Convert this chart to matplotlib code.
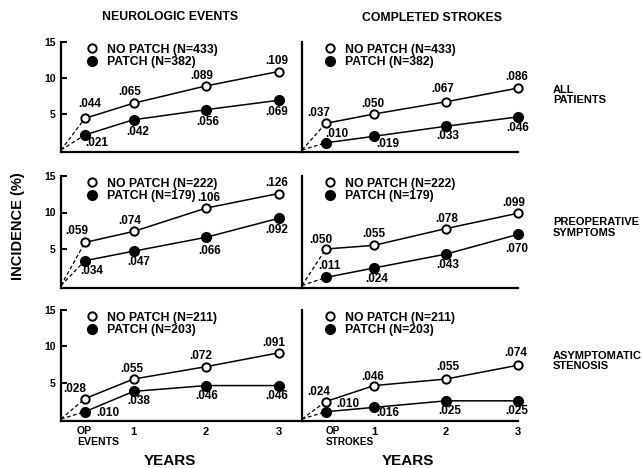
import matplotlib
matplotlib.use("Agg")
import matplotlib.pyplot as plt

plt.rcParams['font.family'] = ['Liberation Sans', 'DejaVu Sans']
plt.rcParams['font.weight'] = 'bold'

# ---------------- data ----------------
years = [0.33, 1, 2, 3]          # OP point, then years 1..3
year_ticks = [1, 2, 3]
year_tick_labels = ["1", "2", "3"]
column_titles = ["NEUROLOGIC EVENTS", "COMPLETED STROKES"]
op_label_top = ["OP", "OP"]
op_label_bottom = ["EVENTS", "STROKES"]
row_labels = ["ALL\nPATIENTS", "PREOPERATIVE\nSYMPTOMS", "ASYMPTOMATIC\nSTENOSIS"]
n_nopatch = [433, 222, 211]
n_patch = [382, 179, 203]

all_events_nopatch = [0.044, 0.065, 0.089, 0.109]
all_events_patch = [0.021, 0.042, 0.056, 0.069]
all_strokes_nopatch = [0.037, 0.050, 0.067, 0.086]
all_strokes_patch = [0.010, 0.019, 0.033, 0.046]
preop_events_nopatch = [0.059, 0.074, 0.106, 0.126]
preop_events_patch = [0.034, 0.047, 0.066, 0.092]
preop_strokes_nopatch = [0.050, 0.055, 0.078, 0.099]
preop_strokes_patch = [0.011, 0.024, 0.043, 0.070]
asym_events_nopatch = [0.028, 0.055, 0.072, 0.091]
asym_events_patch = [0.010, 0.038, 0.046, 0.046]
asym_strokes_nopatch = [0.024, 0.046, 0.055, 0.074]
asym_strokes_patch = [0.010, 0.016, 0.025, 0.025]

panels = [
    [(all_events_nopatch, all_events_patch), (all_strokes_nopatch, all_strokes_patch)],
    [(preop_events_nopatch, preop_events_patch), (preop_strokes_nopatch, preop_strokes_patch)],
    [(asym_events_nopatch, asym_events_patch), (asym_strokes_nopatch, asym_strokes_patch)],
]

# ---------------- label offsets (pixels: dx right, dy down) ----------------
offs_nopatch = [
    [[(5, -14), (-4, -11), (-4, -10), (-2, -11)], [(-7, -10), (-1, -10), (-3, -13), (-1, -11)]],
    [[(-8, -11), (-4, -10), (3, -10), (-2, -11)], [(-5, -9), (0, -11), (1, -10), (-4, -10)]],
    [[(-10, -10), (-2, -10), (-5, -11), (-5, -10)], [(-7, -10), (-1, -9), (2, -12), (-2, -12)]],
]
offs_patch = [
    [[(12, 8), (4, 12), (2, 12), (-2, 12)], [(11, -9), (14, 8), (2, 10), (0, 11)]],
    [[(7, 10), (5, 11), (4, 14), (-2, 12)], [(4, -11), (3, 11), (2, 11), (-1, 15)]],
    [[(23, 1), (5, 10), (1, 10), (-2, 10)], [(22, -8), (14, 6), (4, 10), (-1, 10)]],
]

# ---------------- layout ----------------
W, H = 642, 468
fig = plt.figure(figsize=(W / 100, H / 100), dpi=100)

row_px = [(150, 42), (285.5, 176), (419, 310)]   # pixel y of value 0 and 15
col_px = [(61, 241, 72.5), (302, 216, 72.0)]     # left, width, px per year
op_label_dx = [-8, 0]
op_label_size = [7.6, 7.2]
YMIN = -0.3


def fmt(v):
    return "." + f"{int(round(v * 1000)):03d}"


for r in range(3):
    y0, y15 = row_px[r]
    scale = (y0 - y15) / 15.0
    bottom_px = y0 - YMIN * scale
    for c in range(2):
        left, width, ppy = col_px[c]
        ax = fig.add_axes([left / W, 1 - bottom_px / H, width / W, (bottom_px - y15) / H])
        ax.set_xlim(0, width / ppy)
        ax.set_ylim(YMIN, 15)
        for s in ("top", "right"):
            ax.spines[s].set_visible(False)
        ax.spines["left"].set_linewidth(1.6)
        ax.spines["bottom"].set_linewidth(1.6)
        ax.patch.set_alpha(0)

        npv, pv = panels[r][c]
        np100 = [v * 100 for v in npv]
        p100 = [v * 100 for v in pv]

        ax.plot(years, np100, '-', color='black', lw=1.1, marker='o', ms=6,
                mfc='white', mec='black', mew=1.4, clip_on=False, zorder=4,
                label=f"NO PATCH (N={n_nopatch[r]})")
        ax.plot(years, p100, '-', color='black', lw=1.1, marker='o', ms=7,
                mfc='black', mec='black', clip_on=False, zorder=4,
                label=f"PATCH (N={n_patch[r]})")
        ax.plot([0, years[0]], [0, np100[0]], ls=(0, (3, 2)), lw=0.9,
                color='black', clip_on=False, zorder=3)
        ax.plot([0, years[0]], [0, p100[0]], ls=(0, (3, 2)), lw=0.9,
                color='black', clip_on=False, zorder=3)

        for i in range(4):
            dx, dy = offs_nopatch[r][c][i]
            ax.annotate(fmt(npv[i]), (years[i], np100[i]), xytext=(dx, -dy),
                        textcoords='offset pixels', ha='center', va='center',
                        fontsize=8.5, annotation_clip=False)
            dx, dy = offs_patch[r][c][i]
            ax.annotate(fmt(pv[i]), (years[i], p100[i]), xytext=(dx, -dy),
                        textcoords='offset pixels', ha='center', va='center',
                        fontsize=8.5, annotation_clip=False)

        ax_w_px = width
        ax_h_px = bottom_px - y15
        leg_x = (31 if c == 0 else 28) / ax_w_px
        ax.legend(loc='upper left', bbox_to_anchor=(leg_x, 1 - 1.5 / ax_h_px),
                  frameon=False, handlelength=0, handletextpad=1.25,
                  labelspacing=0.05, borderpad=0, borderaxespad=0,
                  fontsize=8.8)

        # y ticks
        if c == 0:
            ax.set_yticks([5, 10, 15])
            ax.set_yticklabels(["5", "10", "15"], fontsize=7.5)
            ax.tick_params(axis='y', direction='in', length=4, width=1.5, pad=4)
        else:
            ax.set_yticks([])

        # x ticks
        if r == 2:
            ax.set_xticks(year_ticks)
            ax.set_xticklabels(year_tick_labels, fontsize=8)
            ax.tick_params(axis='x', length=0, pad=4)
            ax.annotate(op_label_top[c], (years[0], 0), xycoords=('data', 'axes fraction'),
                        xytext=(op_label_dx[c], -5), textcoords='offset pixels',
                        ha='left', va='top', fontsize=op_label_size[c])
            ax.annotate(op_label_bottom[c], (years[0], 0), xycoords=('data', 'axes fraction'),
                        xytext=(op_label_dx[c], -16), textcoords='offset pixels',
                        ha='left', va='top', fontsize=op_label_size[c])
        else:
            ax.set_xticks([])

# ---------------- texts ----------------
fig.text(170 / W, 1 - 17 / H, column_titles[0], ha='center', va='center', fontsize=8.8)
fig.text(432 / W, 1 - 18 / H, column_titles[1], ha='center', va='center', fontsize=8.8)
row_label_y = [95, 227.5, 361]
for r in range(3):
    fig.text(553 / W, 1 - row_label_y[r] / H, row_labels[r], ha='left', va='center',
             fontsize=8, linespacing=1.1)
fig.text(18 / W, 1 - 226 / H, "INCIDENCE (%)", rotation=90, ha='center', va='center',
         fontsize=10.5)
fig.text(170 / W, 1 - 461 / H, "YEARS", ha='center', va='center', fontsize=11)
fig.text(408 / W, 1 - 461 / H, "YEARS", ha='center', va='center', fontsize=11)

fig.savefig("out.png", dpi=100)
